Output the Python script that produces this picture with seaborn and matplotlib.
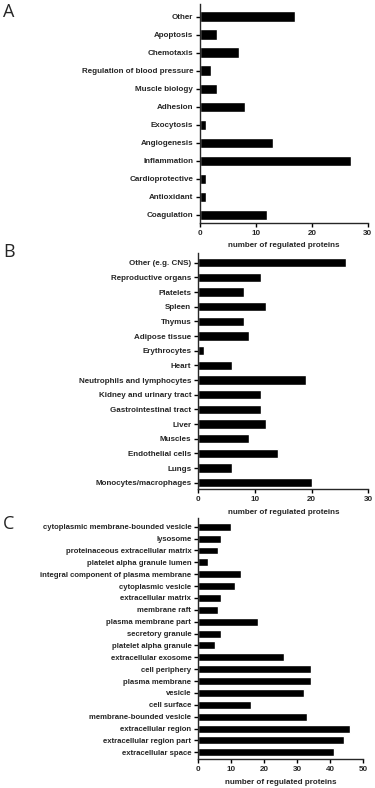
import matplotlib
matplotlib.use('Agg')
import matplotlib.pyplot as plt
import seaborn as sns
import pandas as pd

# panel A - biological processes
proc_labels = ['Other', 'Apoptosis', 'Chemotaxis', 'Regulation of blood pressure', 'Muscle biology',
               'Adhesion', 'Exocytosis', 'Angiogenesis', 'Inflammation', 'Cardioprotective',
               'Antioxidant', 'Coagulation']
proc_counts = [17, 3, 7, 2, 3, 8, 1, 13, 27, 1, 1, 12]

# panel B - tissues / cells
tissue_labels = ['Other (e.g. CNS)', 'Reproductive organs', 'Platelets', 'Spleen', 'Thymus',
                 'Adipose tissue', 'Erythrocytes', 'Heart', 'Neutrophils and lymphocytes',
                 'Kidney and urinary tract', 'Gastrointestinal tract', 'Liver', 'Muscles',
                 'Endothelial cells', 'Lungs', 'Monocytes/macrophages']
tissue_counts = [26, 11, 8, 12, 8, 9, 1, 6, 19, 11, 11, 12, 9, 14, 6, 20]

# panel C - cellular components
comp_labels = ['cytoplasmic membrane-bounded vesicle', 'lysosome', 'proteinaceous extracellular matrix',
               'platelet alpha granule lumen', 'integral component of plasma membrane',
               'cytoplasmic vesicle', 'extracellular matrix', 'membrane raft', 'plasma membrane part',
               'secretory granule', 'platelet alpha granule', 'extracellular exosome', 'cell periphery',
               'plasma membrane', 'vesicle', 'cell surface', 'membrane-bounded vesicle',
               'extracellular region', 'extracellular region part', 'extracellular space']
comp_counts = [10, 7, 6, 3, 13, 11, 7, 6, 18, 7, 5, 26, 34, 34, 32, 16, 33, 46, 44, 41]

sns.set_style("ticks")
plt.rcParams['font.family'] = ['Liberation Sans', 'DejaVu Sans']
plt.rcParams['font.weight'] = 'bold'
plt.rcParams['axes.linewidth'] = 1.0

W, H = 375, 788
fig = plt.figure(figsize=(W / 100, H / 100), dpi=100)

# (labels, values, x0, x1, y_top, y_bottom, xmax, xticks, bar width, pad top, pad bottom,
#  label size, letter, letter y)
panels = [
    (proc_labels, proc_counts, 200, 367.7, 4, 222.7, 30, [0, 10, 20, 30], 0.58, 0.7, 0.43, 5.8, 'A', 3),
    (tissue_labels, tissue_counts, 198.3, 368.3, 253, 489, 30, [0, 10, 20, 30], 0.64, 0.66, 0.43, 5.8, 'B', 243),
    (comp_labels, comp_counts, 198.3, 363.3, 518.3, 759, 50, [0, 10, 20, 30, 40, 50], 0.67, 0.71, 0.56, 5.6, 'C', 515),
]

for labels, vals, x0, x1, yt, yb, xmax, xt, bw, pt, pb, fs, letter, ly in panels:
    ax = fig.add_axes([x0 / W, 1 - yb / H, (x1 - x0) / W, (yb - yt) / H])
    df = pd.DataFrame({'category': labels, 'count': vals})
    sns.barplot(data=df, x='count', y='category', orient='h', color='black',
                saturation=1, width=bw, ax=ax)
    n = len(labels)
    ax.set_ylim(n - 1 + pb, -pt)
    ax.set_xlim(0, xmax)
    ax.set_xticks(xt)
    ax.set_ylabel('')
    ax.set_xlabel('number of regulated proteins', fontsize=5.8, fontweight='bold', labelpad=4)
    ax.tick_params(axis='both', labelsize=fs, length=3, width=1, pad=2, color='black')
    ax.tick_params(axis='x', labelsize=5.8)
    for t in ax.get_xticklabels() + ax.get_yticklabels():
        t.set_fontweight('bold')
    sns.despine(ax=ax)
    fig.text(3 / W, 1 - ly / H, letter, fontsize=13, family='Open Sans',
             fontweight='normal', va='top', ha='left')

fig.savefig('out.png', dpi=100)
